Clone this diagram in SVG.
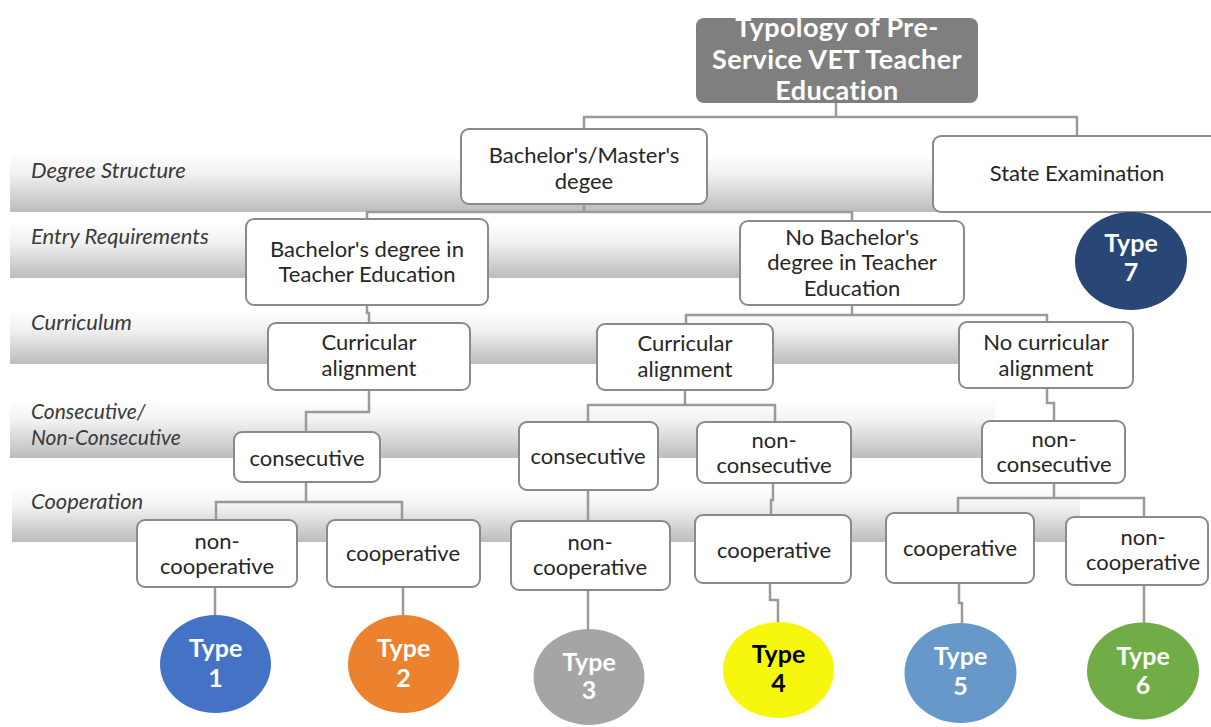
<svg xmlns="http://www.w3.org/2000/svg" width="1211" height="727" viewBox="0 0 1211 727">
<defs>
<linearGradient id="band" x1="0" y1="0" x2="0" y2="1">
<stop offset="0" stop-color="#ffffff"/>
<stop offset="0.35" stop-color="#f2f2f2"/>
<stop offset="1" stop-color="#bcbcbc"/>
</linearGradient>
<style>
.band{fill:url(#band)}
.lbl{font-family:Lato,"Liberation Sans",sans-serif;font-style:italic;font-size:22px;fill:#3a3a3a}
.lbs{font-size:21px}
.box{fill:#fff;stroke:#8a8a8a;stroke-width:2}
.t{font-family:Lato,"Liberation Sans",sans-serif;font-size:22px;fill:#262626;text-anchor:middle}
.tt{font-family:Lato,"Liberation Sans",sans-serif;font-weight:bold;font-size:27px;letter-spacing:0.4px;fill:#fff;text-anchor:middle}
.ct{font-family:Lato,"Liberation Sans",sans-serif;font-weight:bold;font-size:25px;fill:#fff;text-anchor:middle}
.con{fill:none;stroke:#9a9a9a;stroke-width:2.5}
</style>
</defs>
<rect width="1211" height="727" fill="#fff"/>
<g id="bands">
<rect class="band" x="10" y="152" width="1050" height="60"/>
<rect class="band" x="10" y="222" width="735" height="56"/>
<rect class="band" x="10" y="310" width="950" height="54"/>
<rect class="band" x="10" y="400" width="985" height="58"/>
<rect class="band" x="12" y="487" width="1068" height="55"/>
</g>
<g id="labels">
<text class="lbl" x="31" y="178">Degree Structure</text>
<text class="lbl" x="31" y="244">Entry Requirements</text>
<text class="lbl" x="31" y="330">Curriculum</text>
<text class="lbl lbs" x="31" y="419">Consecutive/</text>
<text class="lbl lbs" x="31" y="445">Non-Consecutive</text>
<text class="lbl" x="31" y="509">Cooperation</text>
</g>
<g id="connectors">
<path class="con" d="M836,103 V117 M584,129 V117 H1077 V136"/>
<path class="con" d="M584,204 V212 M367,219 V212 H852 V221"/>
<path class="con" d="M367,305 V313 H369 V323"/>
<path class="con" d="M852,305 V315 M686,324 V315 H1047 V322"/>
<path class="con" d="M369,390 V412 H306 V432"/>
<path class="con" d="M685,390 V405 M588,422 V405 H775 V422"/>
<path class="con" d="M1047,388 V403 H1054 V421"/>
<path class="con" d="M306,482 V502 M216,520 V502 H402 V520"/>
<path class="con" d="M588,490 V521"/>
<path class="con" d="M773,483 V500 H771 V515"/>
<path class="con" d="M1054,483 V498 M958,513 V498 H1144 V517"/>
<path class="con" d="M215,587 V615"/>
<path class="con" d="M403,587 V615"/>
<path class="con" d="M588,590 V630"/>
<path class="con" d="M770,583 V600 H778 V622"/>
<path class="con" d="M959,583 V603 H962 V623"/>
<path class="con" d="M1144,585 V623"/>
</g>
<g id="title">
<rect x="696" y="18" width="282" height="85" rx="8" fill="#7f7f7f"/>
<text class="tt" x="837" y="37">Typology of Pre-</text>
<text class="tt" x="837" y="69">Service VET Teacher</text>
<text class="tt" x="837" y="100">Education</text>
</g>
<g id="n-bachmaster">
<rect class="box" x="461" y="129" width="246" height="75" rx="8"/>
<text class="t" x="584" y="163">Bachelor's/Master's</text>
<text class="t" x="584" y="189">degee</text>
</g>
<g id="n-state">
<rect class="box" x="933" y="136" width="290" height="76" rx="8"/>
<text class="t" x="1077" y="181">State Examination</text>
</g>
<g id="n-bachdeg">
<rect class="box" x="246" y="219" width="242" height="86" rx="8"/>
<text class="t" x="367" y="257">Bachelor's degree in</text>
<text class="t" x="367" y="282">Teacher Education</text>
</g>
<g id="n-nobach">
<rect class="box" x="740" y="221" width="224" height="84" rx="8"/>
<text class="t" x="852" y="245">No Bachelor's</text>
<text class="t" x="852" y="270">degree in Teacher</text>
<text class="t" x="852" y="296">Education</text>
</g>
<g id="n-type7">
<ellipse cx="1131" cy="261" rx="56" ry="49" fill="#284676"/>
<text class="ct" x="1131" y="252">Type</text>
<text class="ct" x="1131" y="281">7</text>
</g>
<g id="n-curr1">
<rect class="box" x="268" y="323" width="202" height="67" rx="8"/>
<text class="t" x="369" y="350">Curricular</text>
<text class="t" x="369" y="376">alignment</text>
</g>
<g id="n-curr2">
<rect class="box" x="597" y="324" width="176" height="66" rx="8"/>
<text class="t" x="685" y="351">Curricular</text>
<text class="t" x="685" y="377">alignment</text>
</g>
<g id="n-nocurr">
<rect class="box" x="959" y="322" width="174" height="66" rx="8"/>
<text class="t" x="1046" y="350">No curricular</text>
<text class="t" x="1046" y="376">alignment</text>
</g>
<g id="n-consec1">
<rect class="box" x="234" y="432" width="146" height="50" rx="8"/>
<text class="t" x="307" y="466">consecutive</text>
</g>
<g id="n-consec2">
<rect class="box" x="519" y="422" width="139" height="68" rx="8"/>
<text class="t" x="588" y="464">consecutive</text>
</g>
<g id="n-nonconsec1">
<rect class="box" x="697" y="422" width="154" height="61" rx="8"/>
<text class="t" x="774" y="448">non-</text>
<text class="t" x="774" y="473">consecutive</text>
</g>
<g id="n-nonconsec2">
<rect class="box" x="982" y="421" width="143" height="62" rx="8"/>
<text class="t" x="1054" y="447">non-</text>
<text class="t" x="1054" y="472">consecutive</text>
</g>
<g id="n-noncoop1">
<rect class="box" x="137" y="520" width="160" height="67" rx="8"/>
<text class="t" x="217" y="549">non-</text>
<text class="t" x="217" y="574">cooperative</text>
</g>
<g id="n-coop1">
<rect class="box" x="327" y="520" width="153" height="67" rx="8"/>
<text class="t" x="403" y="561">cooperative</text>
</g>
<g id="n-noncoop2">
<rect class="box" x="511" y="521" width="159" height="69" rx="8"/>
<text class="t" x="590" y="550">non-</text>
<text class="t" x="590" y="575">cooperative</text>
</g>
<g id="n-coop2">
<rect class="box" x="695" y="515" width="156" height="68" rx="8"/>
<text class="t" x="774" y="558">cooperative</text>
</g>
<g id="n-coop3">
<rect class="box" x="886" y="513" width="148" height="70" rx="8"/>
<text class="t" x="960" y="556">cooperative</text>
</g>
<g id="n-noncoop3">
<rect class="box" x="1066" y="517" width="142" height="68" rx="8"/>
<text class="t" x="1143" y="545">non-</text>
<text class="t" x="1143" y="570">cooperative</text>
</g>
<g id="n-type1">
<ellipse cx="215.5" cy="664" rx="55.5" ry="49" fill="#4472c4"/>
<text class="ct" x="215.5" y="657">Type</text>
<text class="ct" x="215.5" y="687">1</text>
</g>
<g id="n-type2">
<ellipse cx="403.5" cy="664" rx="55.5" ry="49" fill="#ec822e"/>
<text class="ct" x="403.5" y="657">Type</text>
<text class="ct" x="403.5" y="687">2</text>
</g>
<g id="n-type3">
<ellipse cx="589" cy="677" rx="55.5" ry="48" fill="#a5a5a5"/>
<text class="ct" x="589" y="671">Type</text>
<text class="ct" x="589" y="699">3</text>
</g>
<g id="n-type4">
<ellipse cx="778.5" cy="670" rx="55.5" ry="48" fill="#f7f70d"/>
<text class="ct" x="778.5" y="663" style="fill:#000">Type</text>
<text class="ct" x="778.5" y="692" style="fill:#000">4</text>
</g>
<g id="n-type5">
<ellipse cx="960.5" cy="673" rx="56" ry="50" fill="#6699c9"/>
<text class="ct" x="960.5" y="665">Type</text>
<text class="ct" x="960.5" y="695">5</text>
</g>
<g id="n-type6">
<ellipse cx="1143" cy="671" rx="56" ry="48.5" fill="#70ad47"/>
<text class="ct" x="1143" y="665">Type</text>
<text class="ct" x="1143" y="694">6</text>
</g>
</svg>
